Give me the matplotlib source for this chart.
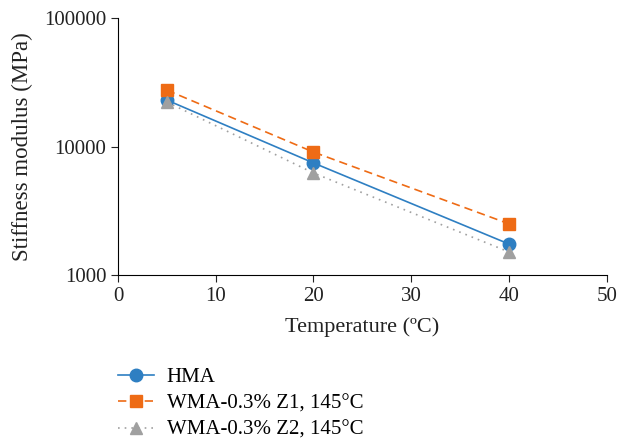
import matplotlib
matplotlib.use("Agg")
import matplotlib.pyplot as plt

temps = [5, 20, 40]
hma = [23000, 7450, 1740]
wma_z1 = [27500, 9050, 2500]
wma_z2 = [22200, 6220, 1510]
labels = ["HMA", "WMA-0.3% Z1, 145°C", "WMA-0.3% Z2, 145°C"]

plt.rcParams['font.family'] = ['Liberation Serif', 'DejaVu Serif']
plt.rcParams['font.size'] = 15

fig = plt.figure(figsize=(6.21, 4.42), dpi=100)
ax = fig.add_axes([0.19, 0.378, 0.787, 0.581])

ax.plot(temps, hma, color='#2E7FC2', marker='o', markersize=9, lw=1.2, label=labels[0])
ax.plot(temps, wma_z1, color='#EE6B15', marker='s', markersize=9, lw=1.2,
        linestyle=(0, (5, 3)), label=labels[1])
ax.plot(temps, wma_z2, color='#A0A0A0', marker='^', markersize=9, lw=1.2,
        linestyle=(0, (1, 3)), label=labels[2])

ax.set_yscale('log')
ax.set_ylim(1000, 100000)
ax.set_xlim(0, 50)
ax.set_xticks([0, 10, 20, 30, 40, 50])
ax.set_yticks([1000, 10000, 100000])
ax.set_yticklabels(["1000", "10000", "100000"])
ax.minorticks_off()
ax.spines['top'].set_visible(False)
ax.spines['right'].set_visible(False)
ax.tick_params(colors='#222222', length=5, labelsize=15)
ax.set_xlabel("Temperature (ºC)", color='#222222', fontsize=16, labelpad=8)
ax.set_ylabel("Stiffness modulus (MPa)", color='#222222', fontsize=16.5, labelpad=8)

fig.legend(loc='upper left', bbox_to_anchor=(0.183, 0.178), frameon=False,
           handlelength=1.75, handletextpad=0.6, labelspacing=0.33, fontsize=15,
           borderaxespad=0, borderpad=0.2)

fig.savefig("out.png", dpi=100)
